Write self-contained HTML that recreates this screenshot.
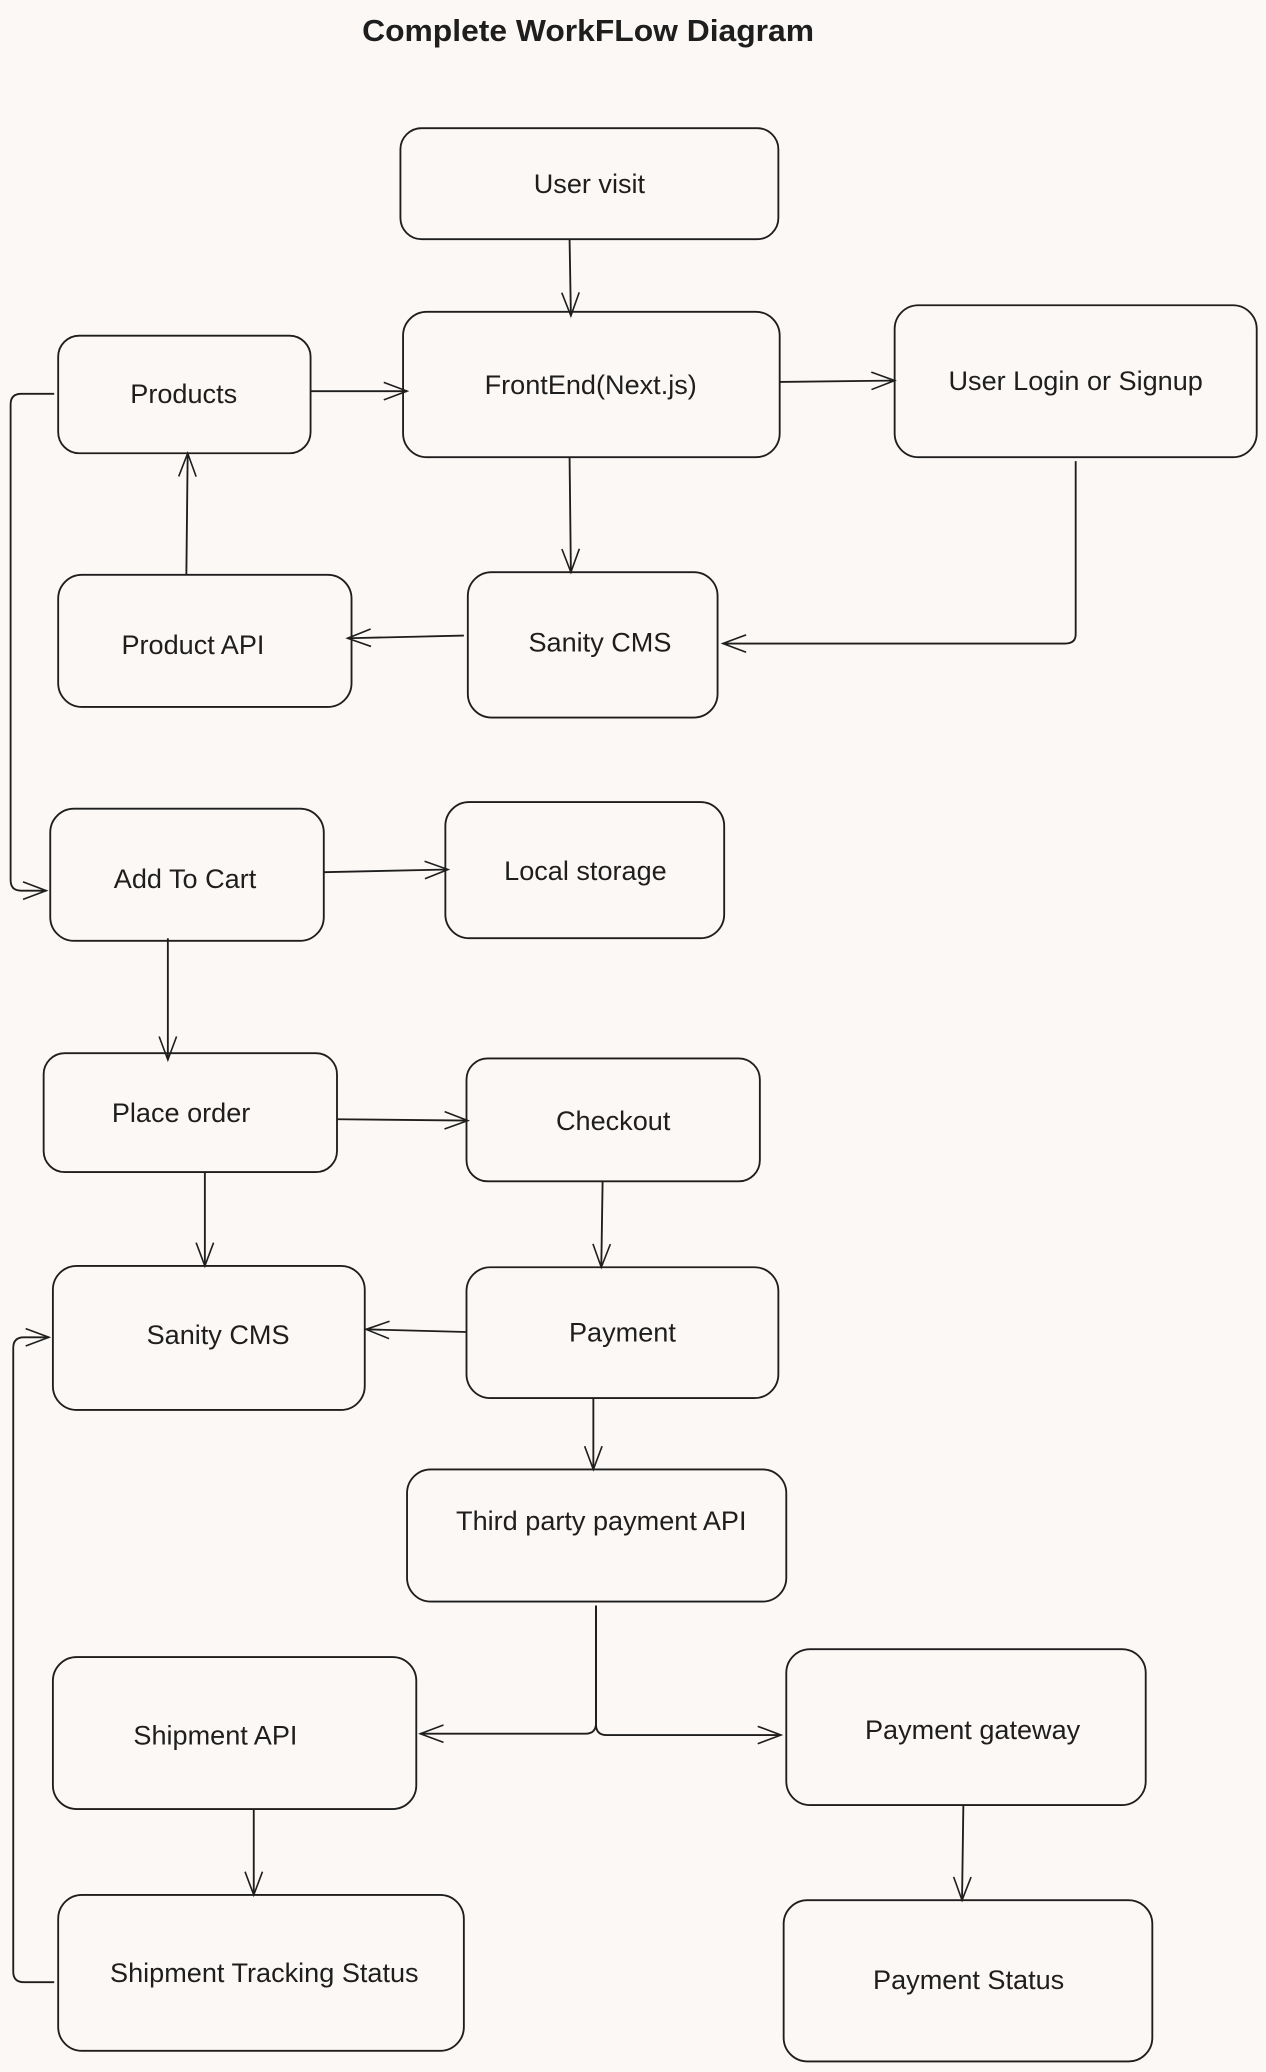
<!DOCTYPE html>
<html><head><meta charset="utf-8"><style>
html,body{margin:0;padding:0;background:#fcf8f5;}
svg{display:block}
text{font-family:"Liberation Sans",sans-serif;fill:#1e1e1e;}
</style></head><body>
<svg width="1266" height="2072" viewBox="0 0 958 1568" xmlns="http://www.w3.org/2000/svg">
<defs>
<marker id="a" viewBox="0 0 20 20" refX="18" refY="10" markerWidth="22" markerHeight="22" markerUnits="userSpaceOnUse" orient="auto">
<path d="M2,4 L18,10 L2,16" fill="none" stroke="#1e1e1e" stroke-width="1.1"/>
</marker>
</defs>
<rect width="958" height="1568" fill="#fcf8f5"/>
<text x="445" y="31" text-anchor="middle" font-size="23" font-weight="bold" textLength="342" lengthAdjust="spacingAndGlyphs">Complete WorkFLow Diagram</text>
<g fill="none" stroke="#1e1e1e" stroke-width="1.4">
<rect x="303" y="97" width="286" height="84" rx="16"/>
<rect x="305" y="236" width="285" height="110" rx="18"/>
<rect x="677" y="231" width="274" height="115" rx="18"/>
<rect x="44" y="254" width="191" height="89" rx="16"/>
<rect x="44" y="435" width="222" height="100" rx="18"/>
<rect x="354" y="433" width="189" height="110" rx="18"/>
<rect x="38" y="612" width="207" height="100" rx="18"/>
<rect x="337" y="607" width="211" height="103" rx="18"/>
<rect x="33" y="797" width="222" height="90" rx="16"/>
<rect x="353" y="801" width="222" height="93" rx="16"/>
<rect x="40" y="958" width="236" height="109" rx="18"/>
<rect x="353" y="959" width="236" height="99" rx="18"/>
<rect x="308" y="1112" width="287" height="100" rx="18"/>
<rect x="40" y="1254" width="275" height="115" rx="18"/>
<rect x="595" y="1248" width="272" height="118" rx="18"/>
<rect x="44" y="1434" width="307" height="118" rx="18"/>
<rect x="593" y="1438" width="279" height="122" rx="18"/>
</g>
<g fill="none" stroke="#1e1e1e" stroke-width="1.4" marker-end="url(#a)">
<path d="M431,181 L432,239"/>
<path d="M235,296 L308,296"/>
<path d="M590,289 L677,288"/>
<path d="M431,346 L432,433"/>
<path d="M814,349 L814,480 Q814,487 806,487 L547,487"/>
<path d="M351,481 L263,483"/>
<path d="M141,435 L142,343"/>
<path d="M41,298 L16,298 Q8,298 8,306 L8,666 Q8,674 16,674 L35,674"/>
<path d="M245,660 L339,658"/>
<path d="M127,710 L127,802"/>
<path d="M255,847 L354,848"/>
<path d="M155,887 L155,958"/>
<path d="M456,894 L455,959"/>
<path d="M353,1008 L277,1006"/>
<path d="M449,1058 L449,1112"/>
<path d="M451,1215 L451,1304 Q451,1312 443,1312 L318,1312"/>
<path d="M451,1215 L451,1305 Q451,1313 459,1313 L591,1313"/>
<path d="M192,1369 L192,1434"/>
<path d="M729,1366 L728,1438"/>
<path d="M41,1500 L18,1500 Q10,1500 10,1492 L10,1020 Q10,1012 18,1012 L37,1012"/>
</g>
<g font-size="20.5" text-anchor="middle">
<text x="446" y="146">User visit</text>
<text x="447" y="298">FrontEnd(Next.js)</text>
<text x="814" y="295">User Login or Signup</text>
<text x="139" y="305">Products</text>
<text x="146" y="495">Product API</text>
<text x="454" y="493">Sanity CMS</text>
<text x="140" y="672">Add To Cart</text>
<text x="443" y="666">Local storage</text>
<text x="137" y="849">Place order</text>
<text x="464" y="855">Checkout</text>
<text x="165" y="1017">Sanity CMS</text>
<text x="471" y="1015">Payment</text>
<text x="455" y="1158">Third party payment API</text>
<text x="163" y="1320">Shipment API</text>
<text x="736" y="1316">Payment gateway</text>
<text x="200" y="1500">Shipment Tracking Status</text>
<text x="733" y="1505">Payment Status</text>
</g>
</svg>
</body></html>
